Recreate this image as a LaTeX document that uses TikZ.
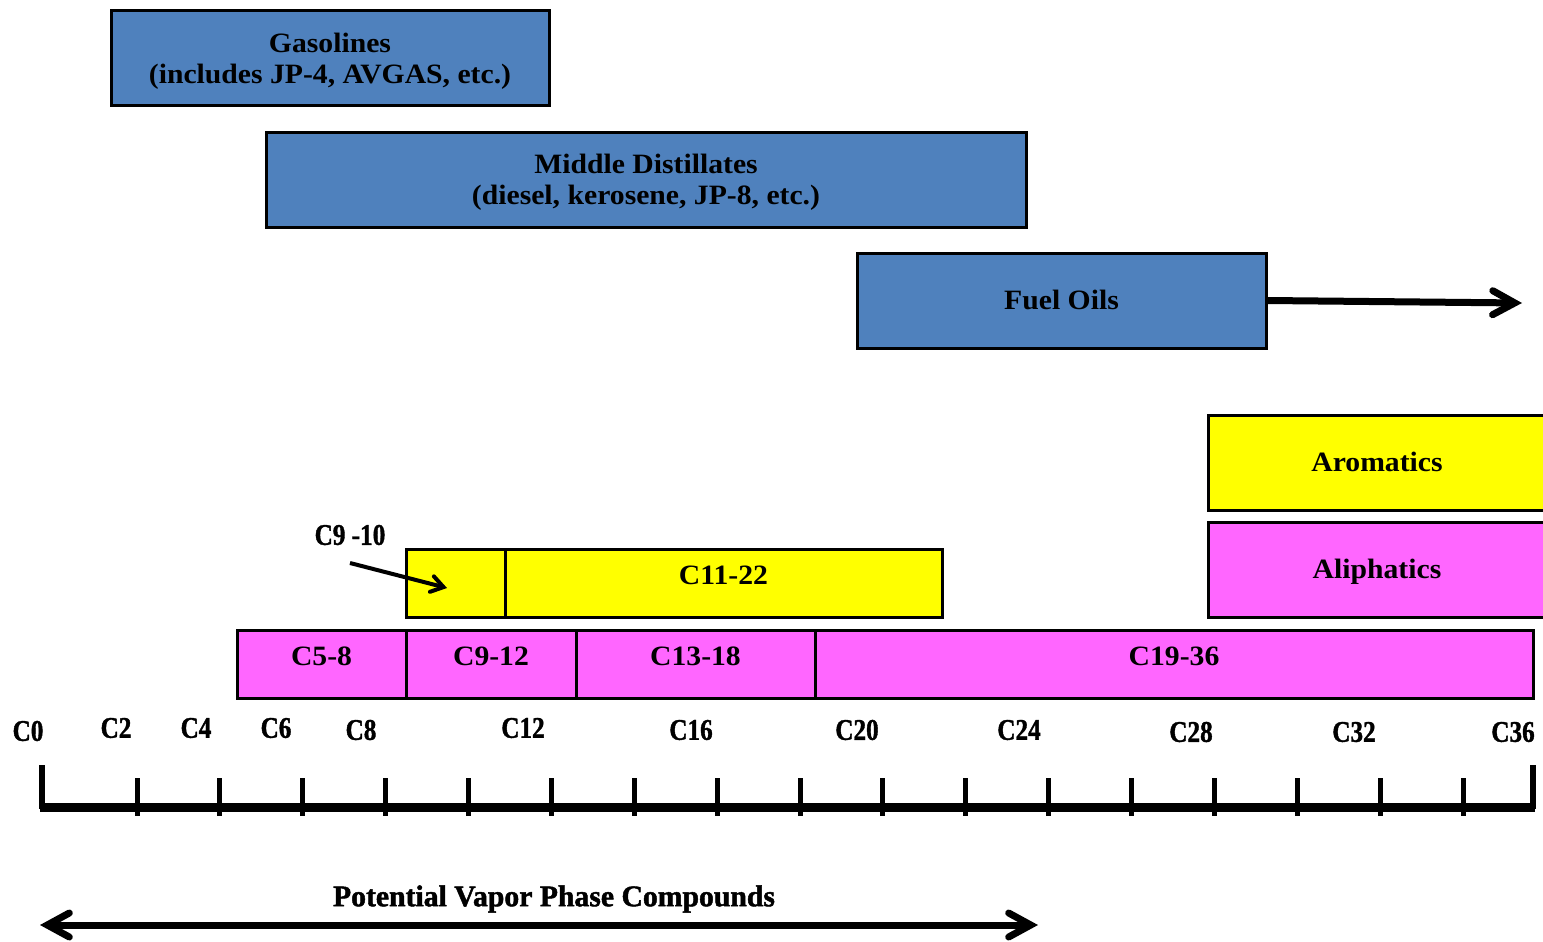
\documentclass[tikz,border=0pt]{standalone}
\usepackage{fontspec}
\setmainfont{Liberation Serif}[FakeStretch=1.06]
\newfontfamily\axfont{Liberation Serif}[FakeStretch=0.84, FakeBold=1.2]
\newfontfamily\vapfont{Liberation Serif}[FakeStretch=0.99, FakeBold=1.5]
\usetikzlibrary{arrows.meta}
\definecolor{fuelblue}{HTML}{4F81BD}
\definecolor{aroyellow}{HTML}{FFFF00}
\definecolor{aliphpink}{HTML}{FF66FF}
\tikzset{
  band/.style={draw=black, line width=1.5pt, inner sep=0pt, align=center,
    font=\bfseries\fontsize{14}{15.5}\selectfont},
  fuelbox/.style={band, fill=fuelblue, minimum height=47.5pt},
  groupbox/.style={band, minimum height=47.5pt, text height=9.3pt, text depth=0pt},
  cutbox/.style={band, minimum height=34pt, text height=9pt, text depth=8pt},
  axlab/.style={inner sep=0pt, font=\axfont\bfseries\fontsize{15}{17}\selectfont},
  bigarrow/.style={line width=3.5pt, -{Straight Barb[length=11pt, width=12pt, line cap=round]}},
}
\begin{document}
\begin{tikzpicture}[x=0.5pt, y=-0.5pt]
  \useasboundingbox (0,0) rectangle (1543,942);
  % product ranges
  \node[fuelbox, minimum width=219pt, text depth=0pt] (gas) at (330,58)
    {Gasolines\\(includes JP-4, AVGAS, etc.)};
  \node[fuelbox, minimum width=380pt, text depth=0pt] (mid) at (646,179.5)
    {Middle Distillates\\(diesel, kerosene, JP-8, etc.)};
  \node[fuelbox, minimum width=204.5pt, text height=9.3pt, text depth=0pt] (oil) at (1061.5,300.5) {Fuel Oils};
  \coordinate (oilend) at (1522,303);
  \draw[bigarrow] (oil.east) -- (oilend);
  % legend
  \node[groupbox, fill=aroyellow, minimum width=169pt] (aro) at (1377,462.5) {Aromatics};
  \node[groupbox, fill=aliphpink, minimum width=169pt] (ali) at (1377,569.5) {Aliphatics};
  % aromatic fractions
  \node[cutbox, fill=aroyellow, minimum width=49.5pt] (a910) at (455.5,583.5) {};
  \node[cutbox, fill=aroyellow, minimum width=218.5pt] (a1122) at (723.5,583.5) {C11-22};
  \node[axlab] (c910) at (350,535) {C9 -10};
  \coordinate (c910from) at (350,563);
  \coordinate (c910tip) at (447,588);
  \draw[line width=2pt, -{Straight Barb[length=6pt, width=8pt, line cap=round]}]
    (c910from) -- (c910tip);
  % aliphatic fractions
  \foreach \nm/\cx/\bw in {C5-8/321.5/84.5, C9-12/491/85, C13-18/695.5/119.5, C19-36/1174/359}{
    \node[cutbox, fill=aliphpink, minimum width=\bw pt] (f\nm) at (\cx,664) {\nm};
  }
  % carbon axis
  \draw[line width=4.5pt] (40,807) -- (1535,807);
  \draw[line width=3pt] (42,765) -- (42,809);
  \draw[line width=3pt] (1533,765) -- (1533,809);
  \foreach \i in {0,...,16}{
    \draw[line width=2.5pt] ({137+82.875*\i},778) -- ({137+82.875*\i},816);
  }
  \foreach \cl/\xx/\yy in {C0/28/731, C2/116/728, C4/196/728, C6/276/728, C8/361/730,
      C12/523/728, C16/691/730, C20/857/730, C24/1019/730, C28/1191/732, C32/1354/732, C36/1513/732}{
    \node[axlab] (ax\cl) at (\xx,\yy) {\cl};
  }
  % vapor range
  \node[inner sep=0pt, font=\vapfont\bfseries\fontsize{15}{17}\selectfont] (vap) at (554,899)
    {Potential Vapor Phase Compounds};
  \coordinate (vapL) at (40,925);
  \coordinate (vapR) at (1038,925);
  \draw[line width=3.5pt, {Straight Barb[length=11pt, width=12pt, line cap=round]}-{Straight Barb[length=11pt, width=12pt, line cap=round]}]
    (vapL) -- (vapR);
\end{tikzpicture}
\end{document}
